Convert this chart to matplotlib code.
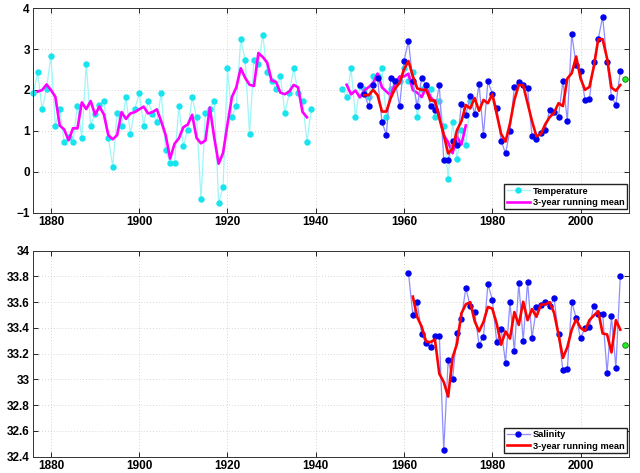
import numpy as np
import pandas as pd
import matplotlib
matplotlib.use('Agg')
import matplotlib.pyplot as plt
from matplotlib.ticker import FuncFormatter

plt.rcParams['font.family'] = ['Liberation Sans', 'DejaVu Sans']
plt.rcParams['font.weight'] = 'bold'

# long temperature record (cyan), gap 1940-1945
hist_years = list(range(1876, 1976))
hist_temp = [
    1.92, 2.43, 1.53, 2.03, 2.84, 1.13, 1.53, 0.73, 0.85, 0.73,
    1.62, 0.83, 2.64, 1.13, 1.42, 1.64, 1.73, 0.83, 0.13, 1.43,
    1.13, 1.82, 0.93, 1.53, 1.92, 1.13, 1.73, 1.42, 1.23, 1.93,
    0.53, 0.22, 0.22, 1.62, 0.62, 1.03, 1.82, 1.33, -0.67, 1.43,
    1.54, 1.74, -0.77, -0.37, 2.53, 1.33, 1.62, 3.24, 2.73, 0.92,
    2.73, 2.64, 3.34, 2.43, 2.23, 2.03, 2.33, 1.44, 1.92, 2.53,
    1.92, 1.74, 0.73, 1.53,
    np.nan, np.nan, np.nan, np.nan, np.nan, np.nan,
    2.03, 1.82, 2.53, 1.33, 2.10, 2.03, 1.84, 2.34, 2.33, 2.53,
    1.33, 2.03, 2.23, 2.23, 2.53, 2.23, 2.43, 1.33, 2.03, 2.12,
    2.03, 1.33, 1.74, 1.12, -0.18, 1.23, 0.32, 1.03, 0.65, 1.72,
]

# newer temperature record (blue) 1950-2009, latest value (green) 2010
temp_years = list(range(1950, 2010))
temp = [
    2.11, 1.91, 1.60, 2.11, 2.30, 1.21, 0.91, 2.30, 2.21, 1.60,
    2.71, 3.20, 2.21, 1.60, 2.30, 2.11, 1.60, 1.52, 2.11, 0.30,
    0.30, 0.75, 0.65, 1.66, 1.39, 1.85, 1.41, 2.15, 0.91, 2.21,
    1.91, 1.57, 0.76, 0.45, 1.01, 2.07, 2.19, 2.11, 2.04, 0.87,
    0.80, 0.94, 1.03, 1.52, 1.46, 1.35, 2.22, 1.25, 3.37, 2.61,
    2.47, 1.76, 1.78, 2.68, 3.24, 3.79, 2.69, 1.84, 1.64, 2.46,
]
temp_latest_year = 2010
temp_latest = 2.26

# salinity 1961-2009, latest value 2010
sal_years = list(range(1961, 2010))
sal = [
    33.83, 33.50, 33.60, 33.35, 33.28, 33.25, 33.34, 33.34, 32.45, 33.15,
    33.00, 33.36, 33.47, 33.71, 33.57, 33.52, 33.27, 33.33, 33.74, 33.62,
    33.29, 33.39, 33.13, 33.60, 33.22, 33.75, 33.30, 33.76, 33.32, 33.56,
    33.58, 33.60, 33.57, 33.63, 33.35, 33.07, 33.08, 33.60, 33.48, 33.32,
    33.40, 33.41, 33.57, 33.51, 33.51, 33.05, 33.49, 33.09, 33.80,
]
sal_latest_year = 2010
sal_latest = 33.27

# 3-year running means (latest value included at the end)
hist_rm = pd.Series(hist_temp).rolling(3, center=True).mean()
temp_rm = pd.Series(temp + [temp_latest]).rolling(3, center=True).mean()
sal_rm = pd.Series(sal + [sal_latest]).rolling(3, center=True).mean()

cyan_line = '#9ef6f8'
cyan_dot = '#18e4ee'
blue_line = '#8e8eff'
blue_dot = '#0000ee'
green_dot = '#22ee22'


def style_axes(ax):
    ax.set_xlim(1876, 2011)
    ax.set_xticks([1880, 1900, 1920, 1940, 1960, 1980, 2000])
    ax.grid(True, linestyle=(0, (1, 2.5)), color='#cfcac0', linewidth=0.6)
    ax.tick_params(direction='in', top=True, right=True, length=3.5,
                   width=0.6, labelsize=8.5, pad=2.5)
    for lab in ax.get_xticklabels() + ax.get_yticklabels():
        lab.set_fontweight('bold')
    for sp in ax.spines.values():
        sp.set_linewidth(0.7)
        sp.set_color('#333333')


fig = plt.figure(figsize=(6.4, 4.73), dpi=100)

# top panel: temperature
ax1 = fig.add_axes([0.052, 0.550, 0.931, 0.433])
ax1.plot(hist_years, hist_temp, '-', color=cyan_line, lw=0.9, marker='o',
         ms=3.6, mfc=cyan_dot, mec=cyan_dot, label='Temperature', clip_on=False)
ax1.plot(hist_years, hist_rm, '-', color='#ff00ff', lw=1.9,
         label='3-year running mean')
ax1.plot(temp_years, temp, '-', color=blue_line, lw=0.9, marker='o',
         ms=3.6, mfc=blue_dot, mec=blue_dot)
ax1.plot(temp_years + [temp_latest_year], temp_rm, '-', color='#ff0000', lw=1.9)
ax1.plot([temp_latest_year], [temp_latest], 'o', ms=4.0, mfc=green_dot,
         mec='#137a13', mew=0.6, clip_on=False)
ax1.set_ylim(-1, 4)
ax1.set_yticks([-1, 0, 1, 2, 3, 4])
style_axes(ax1)
ax1.legend(loc='lower right', bbox_to_anchor=(0.996, 0.018), borderaxespad=0,
           fancybox=False, edgecolor='#222222', framealpha=1,
           handlelength=2.5, handletextpad=0.3, labelspacing=0.25,
           borderpad=0.25, prop={'weight': 'bold', 'size': 6.7})

# bottom panel: salinity
ax2 = fig.add_axes([0.052, 0.0345, 0.931, 0.4355])
ax2.plot(sal_years, sal, '-', color=blue_line, lw=0.9, marker='o',
         ms=3.6, mfc=blue_dot, mec=blue_dot, label='Salinity')
ax2.plot(sal_years + [sal_latest_year], sal_rm, '-', color='#ff0000', lw=1.9,
         label='3-year running mean')
ax2.plot([sal_latest_year], [sal_latest], 'o', ms=4.0, mfc=green_dot,
         mec='#137a13', mew=0.6, clip_on=False)
ax2.set_ylim(32.4, 34)
ax2.set_yticks(np.arange(32.4, 34.01, 0.2))
ax2.yaxis.set_major_formatter(FuncFormatter(lambda v, p: '%g' % round(v, 1)))
style_axes(ax2)
ax2.legend(loc='lower right', bbox_to_anchor=(0.996, 0.018), borderaxespad=0,
           fancybox=False, edgecolor='#222222', framealpha=1,
           handlelength=2.5, handletextpad=0.3, labelspacing=0.25,
           borderpad=0.25, prop={'weight': 'bold', 'size': 6.7})

fig.savefig('out.png', dpi=100)
